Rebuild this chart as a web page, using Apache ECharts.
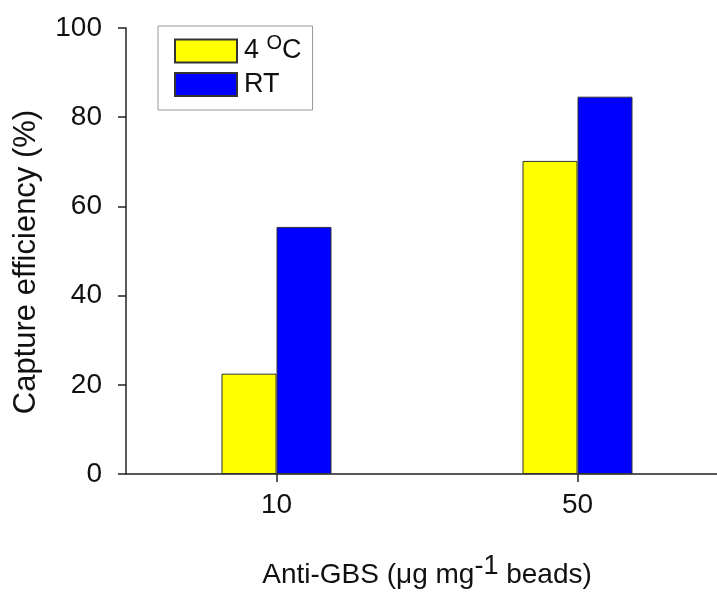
<!DOCTYPE html>
<html>
<head>
<meta charset="utf-8">
<script src="https://cdn.jsdelivr.net/npm/echarts@6/dist/echarts.min.js"></script>
<style>
  html, body { margin: 0; padding: 0; background: #fff; }
  #chart { width: 717px; height: 593px; }
</style>
</head>
<body>
<div id="chart"></div>
<script>
// 抗体浓度分组
const categories = ['10', '50'];
const cold = [22.5, 70.2];
const roomTemp = [55.4, 84.6];
const yTicks = [0, 20, 40, 60, 80, 100];

const font = 'Liberation Sans, Arial, sans-serif';

const barStyle = (c) => ({
  color: c,
  borderColor: '#333',
  borderWidth: 1,
});

const chart = echarts.init(document.getElementById('chart'));
chart.setOption({
  animation: false,
  textStyle: { fontFamily: font },
  legend: {
    left: 158,
    top: 26,
    orient: 'vertical',
    padding: [7, 11, 12, 16],
    itemWidth: 62,
    itemHeight: 23,
    itemGap: 2,
    icon: 'rect',
    borderColor: '#999',
    borderWidth: 1,
    data: ['cold', 'RT'],
    formatter: (name) => (name === 'cold' ? '4 {sup|O}C' : 'RT'),
    textStyle: {
      fontSize: 27,
      lineHeight: 24,
      color: '#111',
      fontFamily: font,
      padding: [0, 0, 0, 2],
      rich: {
        sup: { fontSize: 20, lineHeight: 8, fontFamily: font, color: '#111', padding: [0, 0, 16, 0] },
      },
    },
  },
  grid: { left: 126, top: 28, right: -11, bottom: 119, outerBoundsMode: 'none', containLabel: false },
  xAxis: {
    type: 'category',
    data: categories,
    name: 'Anti-GBS (\u03bcg mg{sup|-1} beads)',
    nameLocation: 'middle',
    nameGap: 79,
    nameTextStyle: {
      fontSize: 28,
      color: '#111',
      fontFamily: font,
      rich: {
        sup: { fontSize: 27, fontFamily: font, color: '#111', padding: [0, 0, 17, 0] },
      },
    },
    axisLine: { lineStyle: { color: '#222', width: 1.5 } },
    axisTick: { show: true, alignWithLabel: true, length: 8, lineStyle: { color: '#222', width: 1.5 } },
    axisLabel: { fontSize: 28, color: '#111', margin: 17 },
  },
  yAxis: {
    type: 'value',
    min: yTicks[0],
    max: yTicks[yTicks.length - 1],
    interval: 20,
    name: 'Capture efficiency (%)',
    nameLocation: 'middle',
    nameGap: 84,
    nameTextStyle: { fontSize: 31, color: '#111', fontFamily: font, padding: [0, 22, 0, 0] },
    axisLine: { show: true, lineStyle: { color: '#222', width: 1.5 } },
    axisTick: { show: true, length: 8, lineStyle: { color: '#222', width: 1.5 } },
    axisLabel: { fontSize: 28, color: '#111', margin: 24 },
    splitLine: { show: false },
  },
  series: [
    {
      name: 'cold',
      type: 'bar',
      data: cold,
      barWidth: 55,
      barGap: '0%',
      itemStyle: barStyle('#ffff00'),
    },
    {
      name: 'RT',
      type: 'bar',
      data: roomTemp,
      barWidth: 55,
      itemStyle: barStyle('#0000ff'),
    },
  ],
});
</script>
</body>
</html>
